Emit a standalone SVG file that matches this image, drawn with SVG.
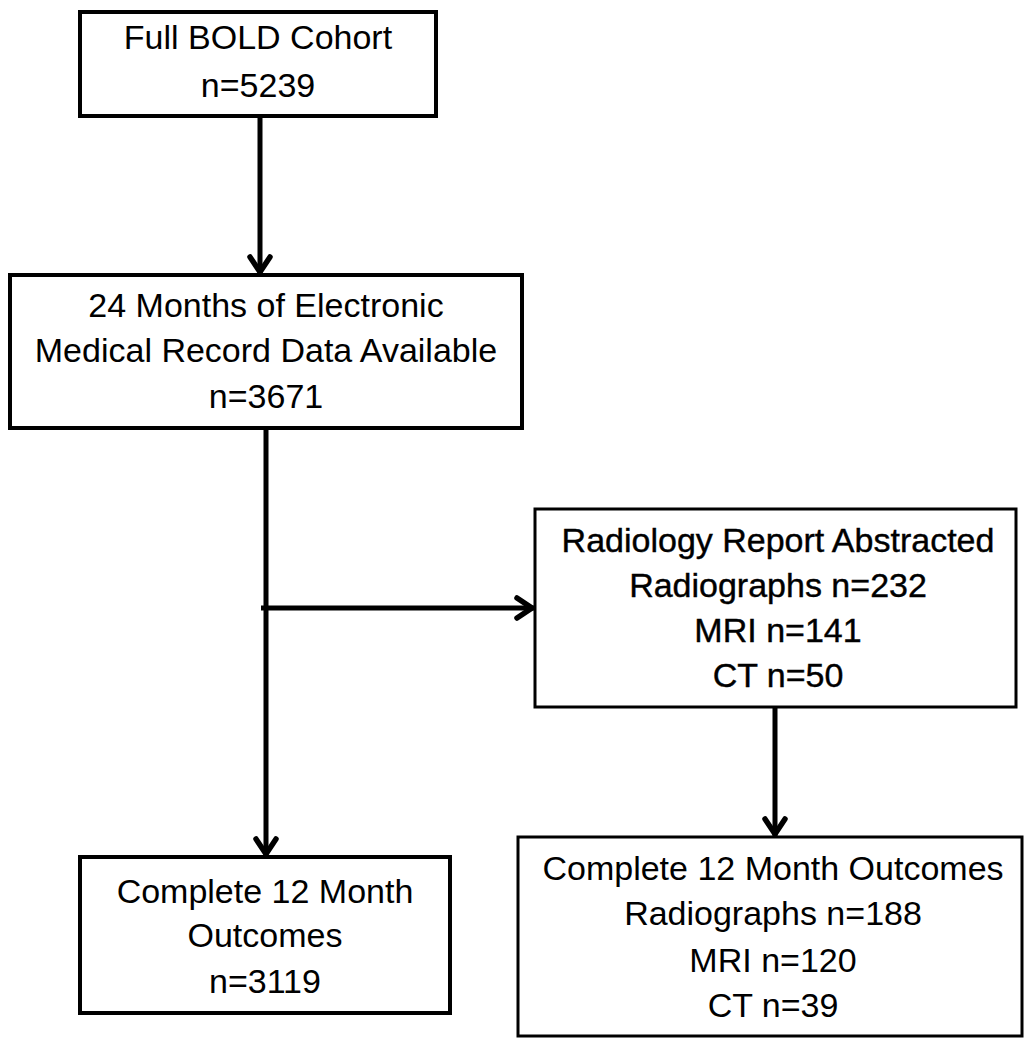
<svg xmlns="http://www.w3.org/2000/svg" width="1030" height="1038" viewBox="0 0 1030 1038">
<style>
  .box { fill: #ffffff; stroke: #000000; stroke-width: 4; }
  .thin { stroke-width: 3; }
  .t { font-family: "Liberation Sans", Arial, sans-serif; font-size: 34px; fill: #000000; text-anchor: middle; }
  .heavy { stroke: #000000; stroke-width: 0.4; }
  .conn { fill: none; stroke: #000000; stroke-width: 5; }
</style>
<defs>
  <marker id="arrow" markerUnits="userSpaceOnUse" markerWidth="28" markerHeight="32" viewBox="-24 -16 28 32" refX="0" refY="0" orient="auto">
    <path d="M -17 -10 L -2 0 L -17 10" fill="none" stroke="#000000" stroke-width="5.5" stroke-linecap="round" stroke-linejoin="miter"/>
  </marker>
</defs>
<rect width="1030" height="1038" fill="#ffffff"/>

<g id="connectors">
  <line class="conn" x1="260" y1="116" x2="260" y2="274" marker-end="url(#arrow)"/>
  <line class="conn" x1="266" y1="428" x2="266" y2="856" marker-end="url(#arrow)"/>
  <line class="conn" x1="261" y1="608" x2="534" y2="608" marker-end="url(#arrow)"/>
  <line class="conn" x1="775" y1="707" x2="775" y2="836" marker-end="url(#arrow)"/>
</g>

<g id="node-full-bold">
  <rect class="box" x="80" y="12" width="356" height="104"/>
  <text class="t" x="258" y="49">Full BOLD Cohort</text>
  <text class="t" x="258" y="97">n=5239</text>
</g>

<g id="node-emr">
  <rect class="box" x="10" y="275" width="512" height="153"/>
  <text class="t" x="266" y="317">24 Months of Electronic</text>
  <text class="t" x="266" y="362">Medical Record Data Available</text>
  <text class="t" x="266" y="408">n=3671</text>
</g>

<g id="node-radiology">
  <rect class="box thin" x="535" y="509" width="481" height="198"/>
  <text class="t heavy" x="778" y="552">Radiology Report Abstracted</text>
  <text class="t heavy" x="778" y="597">Radiographs n=232</text>
  <text class="t heavy" x="778" y="642">MRI n=141</text>
  <text class="t heavy" x="778" y="687">CT n=50</text>
</g>

<g id="node-outcomes-left">
  <rect class="box" x="80" y="857" width="370" height="156"/>
  <text class="t" x="265" y="903">Complete 12 Month</text>
  <text class="t" x="265" y="947">Outcomes</text>
  <text class="t" x="265" y="993">n=3119</text>
</g>

<g id="node-outcomes-right">
  <rect class="box thin" x="518" y="837" width="504" height="199"/>
  <text class="t" x="773" y="880">Complete 12 Month Outcomes</text>
  <text class="t" x="773" y="925">Radiographs n=188</text>
  <text class="t" x="773" y="972">MRI n=120</text>
  <text class="t" x="773" y="1017">CT n=39</text>
</g>
</svg>
